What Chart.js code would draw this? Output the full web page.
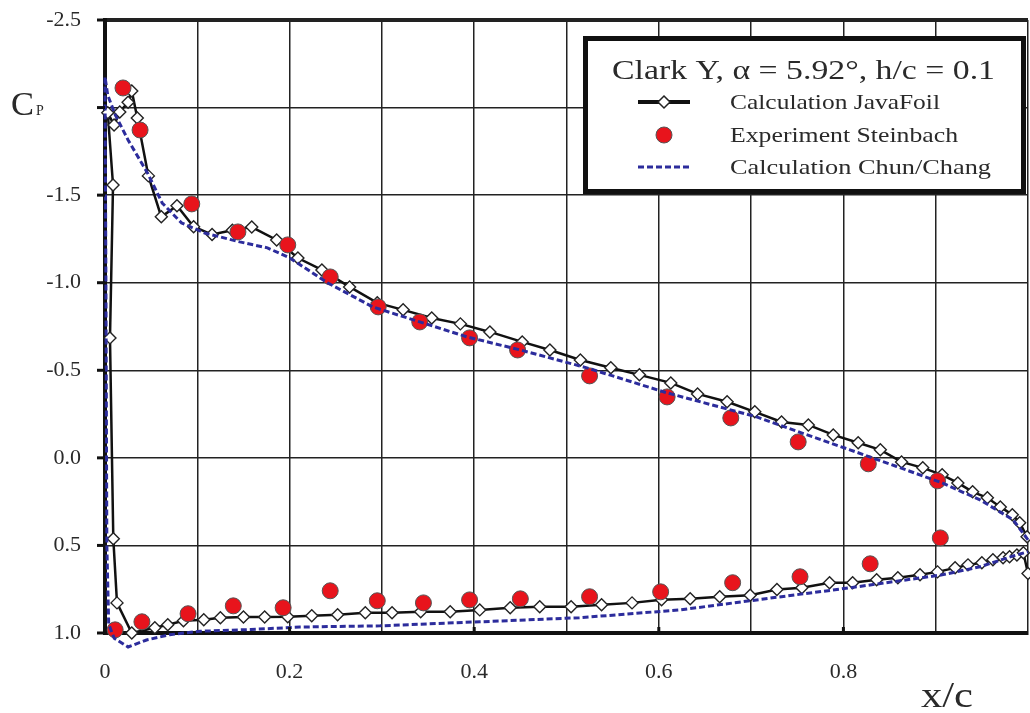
<!DOCTYPE html>
<html>
<head>
<meta charset="utf-8">
<script src="https://cdn.jsdelivr.net/npm/chart.js@4/dist/chart.umd.min.js"></script>
<style>
html,body{margin:0;padding:0;background:#fff;}
#wrap{width:1030px;height:713px;position:relative;}
</style>
</head>
<body>
<div id="wrap"><canvas id="c" width="1030" height="713"></canvas></div>
<script>
// ---- Data (x/c, Cp) ----
// JavaFoil calculation: upper surface (trailing edge -> leading edge)
const jfUpperX  = [0.999,0.991,0.983,0.970,0.956,0.940,0.924,0.907,0.886,0.863,0.840,0.816,0.789,0.762,0.733,0.704,0.674,0.642,0.613,0.579,0.548,0.515,0.482,0.452,0.417,0.385,0.354,0.323,0.295,0.265,0.235,0.209,0.186,0.159,0.138,0.116,0.096,0.078,0.061,0.047,0.035,0.029,0.025,0.016,0.0098,0.003,0.0087,0.0054];
const jfUpperCp = [0.451,0.371,0.325,0.280,0.228,0.194,0.143,0.097,0.057,0.023,-0.046,-0.086,-0.131,-0.188,-0.205,-0.263,-0.320,-0.365,-0.428,-0.474,-0.514,-0.559,-0.616,-0.662,-0.719,-0.765,-0.799,-0.845,-0.885,-0.976,-1.073,-1.141,-1.244,-1.318,-1.300,-1.275,-1.320,-1.440,-1.376,-1.610,-1.940,-2.095,-2.030,-1.975,-1.900,-1.970,-1.558,-0.685];
// JavaFoil calculation: lower surface (leading edge -> trailing edge)
const jfLowerX  = [0.009,0.013,0.029,0.054,0.068,0.085,0.107,0.125,0.150,0.173,0.198,0.224,0.252,0.282,0.311,0.342,0.374,0.406,0.439,0.471,0.505,0.538,0.571,0.603,0.634,0.666,0.699,0.728,0.755,0.785,0.810,0.836,0.859,0.883,0.902,0.921,0.935,0.950,0.962,0.973,0.980,0.988,0.995,1.000];
const jfLowerCp = [0.462,0.828,1.000,0.970,0.953,0.930,0.925,0.913,0.908,0.908,0.907,0.902,0.896,0.884,0.884,0.879,0.879,0.868,0.856,0.850,0.850,0.839,0.828,0.810,0.805,0.793,0.785,0.752,0.742,0.713,0.713,0.696,0.685,0.668,0.651,0.628,0.611,0.599,0.582,0.571,0.565,0.554,0.542,0.660];

// Experiment Steinbach
const expUpperX  = [0.0195,0.038,0.094,0.144,0.198,0.244,0.296,0.341,0.395,0.447,0.525,0.609,0.678,0.751,0.827,0.902,0.905];
const expUpperCp = [-2.112,-1.872,-1.450,-1.290,-1.216,-1.033,-0.862,-0.776,-0.685,-0.616,-0.468,-0.348,-0.228,-0.091,0.034,0.131,0.457];
const expLowerX  = [0.011,0.040,0.090,0.139,0.193,0.244,0.295,0.345,0.395,0.450,0.525,0.602,0.680,0.753,0.829];
const expLowerCp = [0.982,0.936,0.890,0.845,0.856,0.759,0.816,0.828,0.811,0.805,0.793,0.765,0.713,0.679,0.605];

// Chun/Chang calculation: upper (TE -> LE), lower (LE -> TE)
const ccUpperX  = [1.000,0.984,0.948,0.907,0.857,0.807,0.756,0.706,0.609,0.522,0.450,0.392,0.334,0.290,0.241,0.200,0.176,0.146,0.108,0.083,0.062,0.046,0.025,0.011,0.003,0.000];
const ccUpperCp = [0.468,0.354,0.240,0.143,0.048,-0.046,-0.140,-0.234,-0.371,-0.514,-0.616,-0.691,-0.788,-0.862,-1.000,-1.142,-1.199,-1.233,-1.284,-1.341,-1.455,-1.627,-1.815,-1.960,-2.070,-2.175];
const ccLowerX  = [0.000,0.001,0.002,0.004,0.010,0.025,0.045,0.070,0.103,0.158,0.211,0.298,0.406,0.514,0.623,0.706,0.807,0.907,0.948,0.984,1.000];
const ccLowerCp = [-2.175,-1.000,0.500,0.950,1.030,1.080,1.040,1.010,0.990,0.980,0.966,0.959,0.936,0.913,0.868,0.811,0.742,0.668,0.622,0.560,0.536];

// Tick labels
const xTickValues = [0, 0.2, 0.4, 0.6, 0.8];
const xTickLabels = ['0', '0.2', '0.4', '0.6', '0.8'];
const yTickValues = [-2.5, -1.5, -1.0, -0.5, 0.0, 0.5, 1.0];
const yTickLabels = ['-2.5', '-1.5', '-1.0', '-0.5', '0.0', '0.5', '1.0'];

const legendTitle = 'Clark Y, \u03b1 = 5.92\u00b0, h/c = 0.1';
const seriesNames = ['Calculation JavaFoil', 'Experiment Steinbach', 'Calculation Chun/Chang'];

// ---- Build datasets ----
const zip = (xs, ys) => xs.map((x, i) => ({x: x, y: ys[i]}));
const jfData = zip(jfUpperX, jfUpperCp).concat(zip(jfLowerX, jfLowerCp));
const expData = zip(expUpperX, expUpperCp).concat(zip(expLowerX, expLowerCp));
const ccData = zip(ccUpperX, ccUpperCp).concat(zip(ccLowerX, ccLowerCp).slice(1));

const SERIF = '"Liberation Serif", "DejaVu Serif", serif';
const TXT = '#2a2a2a';
const BLUE = '#2c2c9c';
const RED = '#e8141c';

const near = (v, arr) => arr.findIndex(t => Math.abs(t - v) < 1e-6);

function stretchText(ctx, text, x, y, targetW) {
  const w = ctx.measureText(text).width;
  ctx.save();
  ctx.translate(x, y);
  ctx.scale(targetW / w, 1);
  ctx.fillText(text, 0, 0);
  ctx.restore();
}

const decor = {
  id: 'decor',
  afterDraw(chart) {
    const ctx = chart.ctx;
    const xs = chart.scales.x, ys = chart.scales.y;
    const ca = chart.chartArea;
    ctx.save();
    // outer tick marks on y axis
    ctx.strokeStyle = '#111';
    ctx.lineWidth = 3;
    yTickValues.concat([-2.0]).forEach(v => {
      const py = ys.getPixelForValue(v);
      ctx.beginPath(); ctx.moveTo(ca.left - 8, py); ctx.lineTo(ca.left, py); ctx.stroke();
    });
    // inner tick marks on x axis
    xTickValues.forEach(v => {
      const px = xs.getPixelForValue(v);
      ctx.beginPath(); ctx.moveTo(px, ca.bottom); ctx.lineTo(px, ca.bottom - 6); ctx.stroke();
    });
    // axis titles
    ctx.fillStyle = TXT;
    ctx.textBaseline = 'alphabetic';
    ctx.textAlign = 'left';
    ctx.font = '33px ' + SERIF;
    stretchText(ctx, 'C', 11, 115, 23);
    ctx.font = '14px ' + SERIF;
    ctx.fillText('P', 36, 115);
    ctx.font = '36px ' + SERIF;
    stretchText(ctx, 'x/c', 921, 707, 52);

    // legend box
    const L = {x: 583, y: 36, w: 443, h: 158};
    ctx.fillStyle = '#fff';
    ctx.fillRect(L.x, L.y, L.w, L.h);
    ctx.strokeStyle = '#111';
    ctx.lineWidth = 5;
    ctx.strokeRect(L.x + 2.5, L.y + 2.5, L.w - 5, L.h - 5);
    ctx.fillStyle = TXT;
    ctx.font = '27px ' + SERIF;
    stretchText(ctx, legendTitle, 612, 79, 383);
    ctx.font = '22px ' + SERIF;
    const rows = [102, 135, 167];
    const widths = [210, 228, 261];
    rows.forEach((ry, i) => stretchText(ctx, seriesNames[i], 730, ry + 7, widths[i]));
    // sample: JavaFoil
    ctx.strokeStyle = '#111'; ctx.lineWidth = 4; ctx.setLineDash([]);
    ctx.beginPath(); ctx.moveTo(638, rows[0]); ctx.lineTo(690, rows[0]); ctx.stroke();
    ctx.fillStyle = '#fff'; ctx.strokeStyle = '#222'; ctx.lineWidth = 1.5;
    ctx.beginPath(); ctx.moveTo(664, rows[0] - 6); ctx.lineTo(670, rows[0]); ctx.lineTo(664, rows[0] + 6); ctx.lineTo(658, rows[0]); ctx.closePath(); ctx.fill(); ctx.stroke();
    // sample: Steinbach
    ctx.fillStyle = RED; ctx.strokeStyle = '#555'; ctx.lineWidth = 1;
    ctx.beginPath(); ctx.arc(664, rows[1], 8, 0, Math.PI * 2); ctx.fill(); ctx.stroke();
    // sample: Chun/Chang
    ctx.strokeStyle = BLUE; ctx.lineWidth = 3; ctx.setLineDash([6, 3]);
    ctx.beginPath(); ctx.moveTo(638, rows[2]); ctx.lineTo(690, rows[2]); ctx.stroke();
    ctx.restore();
  }
};

new Chart(document.getElementById('c'), {
  type: 'scatter',
  data: {
    datasets: [
      {
        label: seriesNames[0], data: jfData, showLine: true, order: 3,
        borderColor: '#111', borderWidth: 2.5, tension: 0,
        pointStyle: 'rectRot', pointRadius: 6, pointBackgroundColor: '#fff',
        pointBorderColor: '#222', pointBorderWidth: 1.4, clip: false
      },
      {
        label: seriesNames[1], data: expData, showLine: false, order: 2,
        pointStyle: 'circle', pointRadius: 8, pointBackgroundColor: RED,
        pointBorderColor: '#555', pointBorderWidth: 1, clip: false
      },
      {
        label: seriesNames[2], data: ccData, showLine: true, order: 1,
        borderColor: BLUE, borderWidth: 3, borderDash: [6, 3], tension: 0,
        pointRadius: 0, clip: false
      }
    ]
  },
  options: {
    responsive: false,
    animation: false,
    events: [],
    layout: {autoPadding: false, padding: {top: 20, right: 2, left: 0, bottom: 0}},
    plugins: {legend: {display: false}, tooltip: {enabled: false}, title: {display: false}},
    scales: {
      x: {
        type: 'linear', min: 0, max: 1, position: 'bottom',
        afterFit: s => { s.height = 80; s.paddingLeft = 0; s.paddingRight = 0; },
        grid: {color: '#222', lineWidth: 1.5, drawTicks: false},
        border: {color: '#111', width: 4},
        ticks: {
          stepSize: 0.1, padding: 26, color: TXT, maxRotation: 0, autoSkip: false,
          font: {family: SERIF, size: 22},
          callback: v => { const i = near(v, xTickValues); return i >= 0 ? xTickLabels[i] : ''; }
        }
      },
      y: {
        type: 'linear', min: -2.5, max: 1.0, reverse: true,
        afterFit: s => { s.width = 105; s.paddingTop = 0; s.paddingBottom = 0; },
        grid: {
          color: '#222', drawTicks: false,
          lineWidth: c => (c.tick && Math.abs(c.tick.value + 2.5) < 1e-6) ? 4 : 1.5
        },
        border: {color: '#111', width: 4},
        ticks: {
          stepSize: 0.5, padding: 24, color: TXT, autoSkip: false,
          font: {family: SERIF, size: 22},
          callback: v => { const i = near(v, yTickValues); return i >= 0 ? yTickLabels[i] : ''; }
        }
      }
    }
  },
  plugins: [decor]
});
</script>
</body>
</html>
